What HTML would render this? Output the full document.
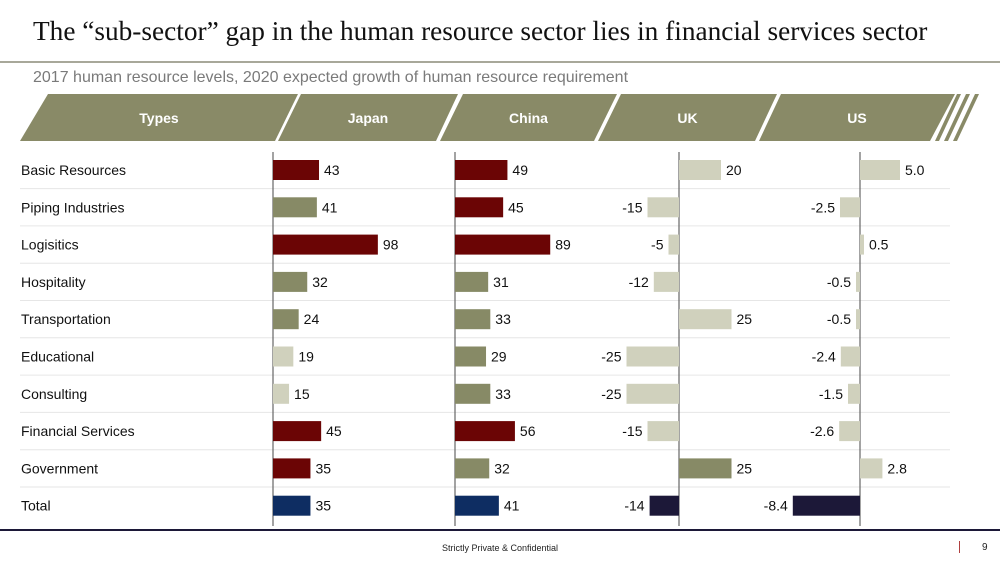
<!DOCTYPE html>
<html><head><meta charset="utf-8"><style>
body{margin:0;width:1000px;height:563px;background:#fff;overflow:hidden;font-family:"Liberation Sans",sans-serif;position:relative}
.abs{position:absolute}
</style></head><body>
<div class="abs" style="left:33px;top:16px;font-family:'Liberation Serif',serif;font-size:27.3px;color:#111;white-space:nowrap">The “sub-sector” gap in the human resource sector lies in financial services sector</div>
<div class="abs" style="left:0;top:61px;width:1000px;height:2px;background:#a8a89a"></div>
<div class="abs" style="left:33px;top:69px;font-size:16px;color:#7a7a7a;white-space:nowrap">2017 human resource levels, 2020 expected growth of human resource requirement</div>
<svg class="abs" style="left:0;top:0" width="1000" height="563" id="chart"></svg>
<div class="abs" style="left:0;top:529px;width:1000px;height:2px;background:#1c1838"></div>
<div class="abs" style="left:0;width:1000px;top:543px;text-align:center;font-size:9px;color:#222">Strictly Private &amp; Confidential</div>
<div class="abs" style="left:959px;top:541px;width:1px;height:12px;background:#b04040"></div>
<div class="abs" style="left:982px;top:542px;font-size:10px;color:#222">9</div>
<script>
const categories=["Basic Resources","Piping Industries","Logisitics","Hospitality","Transportation","Educational","Consulting","Financial Services","Government","Total"];
const japan=[43,41,98,32,24,19,15,45,35,35];
const china=[49,45,89,31,33,29,33,56,32,41];
const uk=[20,-15,-5,-12,25,-25,-25,-15,25,-14];
const us=[5.0,-2.5,0.5,-0.5,-0.5,-2.4,-1.5,-2.6,2.8,-8.4];
const japanColor=["r","o","r","o","o","l","l","r","r","n"];
const chinaColor=["r","r","r","o","o","o","o","r","o","n"];
const ukColor=["l","l","l","l","l","l","l","l","o","d"];
const usColor=["l","l","l","l","l","l","l","l","l","d"];
const headers=["Types","Japan","China","UK","US"];
const C={r:"#6b0505",o:"#878a66",l:"#d0d1bd",n:"#0e2d62",d:"#1c1838"};
const svg=document.getElementById('chart');const NS="http://www.w3.org/2000/svg";
function mk(t,a){const e=document.createElementNS(NS,t);for(const k in a)e.setAttribute(k,a[k]);svg.appendChild(e);return e;}
const segs=[[20,48,298,275],[278,301,458,436],[440,463,617,594],[598,621,777,755],[759,781,955,930]];
segs.forEach((s,i)=>{const p=mk('polygon',{points:`${s[0]},141 ${s[1]},94 ${s[2]},94 ${s[3]},141`,fill:'#898a67'});


const t=mk('text',{x:(s[0]+s[2])/2,y:123,'text-anchor':'middle','font-size':14,'font-weight':'bold',fill:'#fff'});t.textContent=headers[i];

});
[[935,957],[944,966],[953,975]].forEach(a=>{const p=mk('polygon',{points:`${a[0]},141 ${a[1]},94 ${a[1]+4},94 ${a[0]+4},141`,fill:'#898a67'});

});
const rowY=i=>170+i*37.3;
categories.forEach((c,i)=>{const t=mk('text',{x:21,y:rowY(i)+5,'font-size':14,fill:'#111'});t.textContent=c;


if(i<9){const l=mk('line',{x1:20,x2:950,y1:rowY(i)+18.6,y2:rowY(i)+18.6,stroke:'#e6e6e6','stroke-width':1});

}});
const cols=[{name:'japan',v:japan,c:japanColor,x0:273,k:1.07,fmt:v=>String(v)},
{name:'china',v:china,c:chinaColor,x0:455,k:1.07,fmt:v=>String(v)},
{name:'uk',v:uk,c:ukColor,x0:679,k:2.1,fmt:v=>String(v)},
{name:'us',v:us,c:usColor,x0:860,k:8,fmt:v=>v.toFixed(1)}];
cols.forEach(col=>{const ax=mk('line',{x1:col.x0,x2:col.x0,y1:152,y2:526,stroke:'#666','stroke-width':1.2});


col.v.forEach((v,i)=>{const w=Math.abs(v)*col.k;const x=v>=0?col.x0:col.x0-w;
const r=mk('rect',{x:x,y:rowY(i)-10,width:Math.max(w,1.5),height:20,fill:C[col.c[i]]});


const t=mk('text',{x:v>=0?col.x0+w+5:col.x0-w-5,y:rowY(i)+5,'font-size':14,fill:'#111','text-anchor':v>=0?'start':'end'});t.textContent=col.fmt(v);

});});
</script>
</body></html>
